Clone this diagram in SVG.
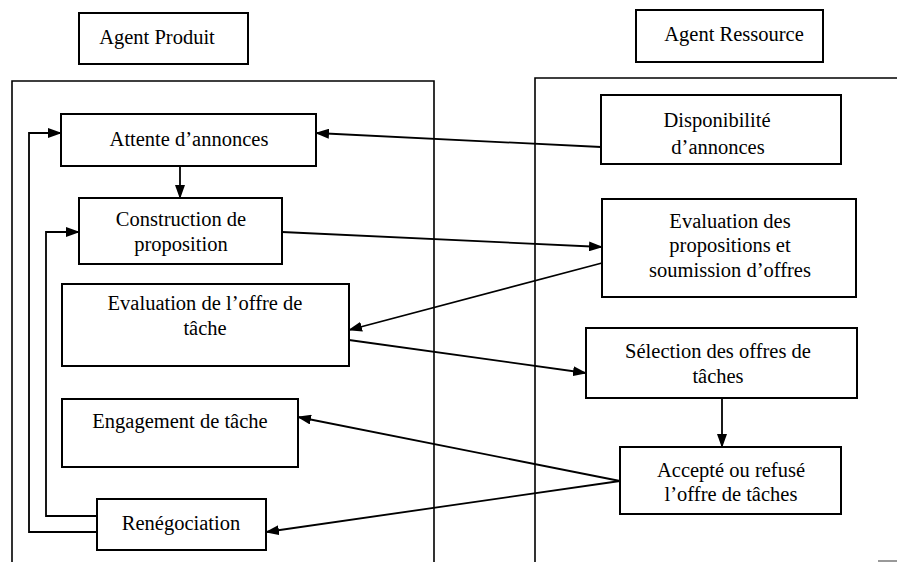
<svg xmlns="http://www.w3.org/2000/svg" width="897" height="562" viewBox="0 0 897 562">
<defs>
<marker id="ah" markerWidth="14" markerHeight="10" refX="13" refY="5" orient="auto" markerUnits="userSpaceOnUse">
<path d="M0,0 L14,5 L0,10 Z" fill="#000"/>
</marker>
<style>
.box{fill:#fff;stroke:#000;stroke-width:2}
.frame{fill:none;stroke:#000;stroke-width:1.6}
.t{font-family:'Liberation Serif',Tinos,'Times New Roman',serif;font-size:20.5px;fill:#000;text-anchor:middle}
.a{fill:none;stroke:#000;stroke-width:1.8;marker-end:url(#ah)}
</style>
</defs>
<rect width="897" height="562" fill="#fff"/>
<g id="frames">
<path class="frame" d="M12,562 V81 H434 V562"/>
<path class="frame" d="M535,562 V78 H897"/>
<line x1="878" y1="561" x2="897" y2="561" stroke="#777" stroke-width="1.5"/>
</g>
<g id="agent-produit"><rect class="box" x="79" y="13" width="169" height="51"/><text class="t" x="157" y="44">Agent Produit</text></g>
<g id="agent-ressource"><rect class="box" x="636" y="10" width="187" height="52"/><text class="t" x="734" y="41">Agent Ressource</text></g>
<g id="attente"><rect class="box" x="61" y="114" width="255" height="52"/><text class="t" x="189" y="146">Attente d’annonces</text></g>
<g id="construction"><rect class="box" x="79" y="198" width="203" height="66"/><text class="t" x="181" y="226">Construction de</text><text class="t" x="181" y="251">proposition</text></g>
<g id="evaluation-offre"><rect class="box" x="62" y="284" width="287" height="82"/><text class="t" x="205" y="310">Evaluation de l’offre de</text><text class="t" x="205" y="335">tâche</text></g>
<g id="engagement"><rect class="box" x="62" y="399" width="236" height="68"/><text class="t" x="180" y="428">Engagement de tâche</text></g>
<g id="renegociation"><rect class="box" x="97" y="499" width="169" height="51"/><text class="t" x="181" y="530">Renégociation</text></g>
<g id="disponibilite"><rect class="box" x="601" y="95" width="240" height="69"/><text class="t" x="717" y="127">Disponibilité</text><text class="t" x="718" y="154">d’annonces</text></g>
<g id="evaluation-propositions"><rect class="box" x="602" y="199" width="254" height="98"/><text class="t" x="730" y="228">Evaluation des</text><text class="t" x="730" y="252">propositions et</text><text class="t" x="730" y="277">soumission d’offres</text></g>
<g id="selection"><rect class="box" x="586" y="328" width="271" height="70"/><text class="t" x="718" y="358">Sélection des offres de</text><text class="t" x="718" y="383">tâches</text></g>
<g id="accepte"><rect class="box" x="620" y="447" width="221" height="67"/><text class="t" x="731" y="477">Accepté ou refusé</text><text class="t" x="731" y="501">l’offre de tâches</text></g>
<g id="connectors">
<line class="a" x1="601" y1="147" x2="316" y2="133"/>
<line class="a" x1="180" y1="166" x2="180" y2="198"/>
<line class="a" x1="282" y1="232" x2="602" y2="247"/>
<line class="a" x1="602" y1="263" x2="349" y2="330"/>
<line class="a" x1="349" y1="340" x2="586" y2="373"/>
<line class="a" x1="722" y1="398" x2="722" y2="447"/>
<line class="a" x1="620" y1="481" x2="298" y2="417"/>
<line class="a" x1="620" y1="481" x2="266" y2="532"/>
<polyline class="a" points="97,516 46,516 46,232 79,232"/>
<polyline class="a" points="97,532 29,532 29,133 61,133"/>
</g>
</svg>
